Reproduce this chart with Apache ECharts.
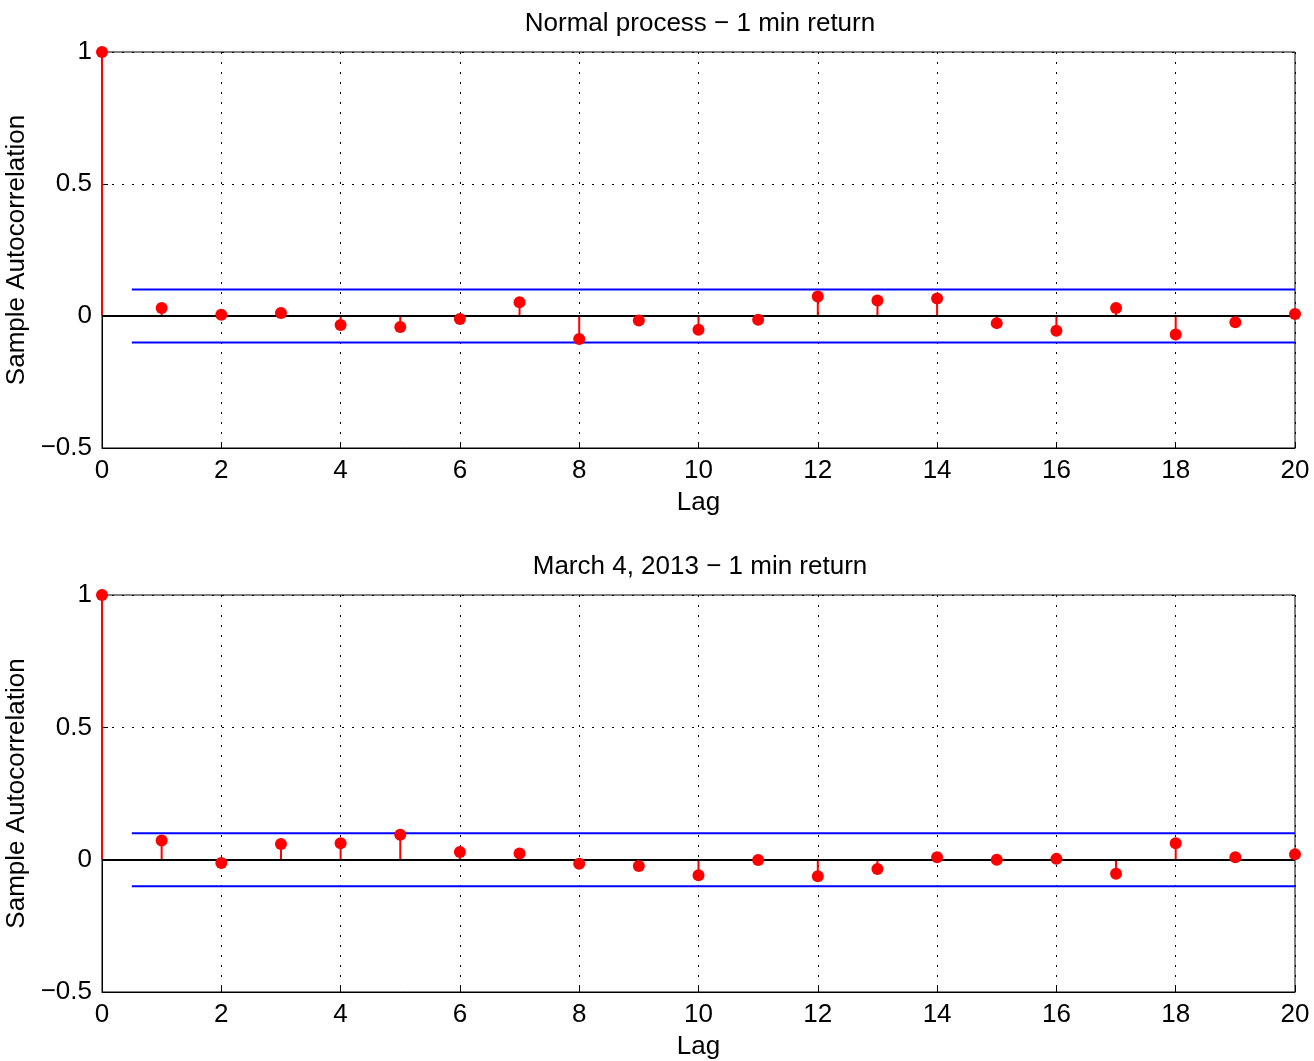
<!DOCTYPE html>
<html>
<head>
<meta charset="utf-8">
<title>Sample Autocorrelation</title>
<script src="https://cdn.jsdelivr.net/npm/echarts@6/dist/echarts.min.js"></script>
<style>
  html, body { margin: 0; padding: 0; background: #fff; }
  #main { width: 1314px; height: 1061px; }
</style>
</head>
<body>
<div id="main"></div>
<script type="text/javascript">
// lags 0..20
var lags = [0, 1, 2, 3, 4, 5, 6, 7, 8, 9, 10, 11, 12, 13, 14, 15, 16, 17, 18, 19, 20];

// Normal process - 1 min return
var acfNormal = [1, 0.030, 0.005, 0.011, -0.034, -0.042, -0.011, 0.052, -0.087, -0.017, -0.052,
                 -0.014, 0.074, 0.059, 0.066, -0.027, -0.056, 0.030, -0.070, -0.024, 0.008];

// March 4, 2013 - 1 min return
var acfMarch = [1, 0.072, -0.013, 0.059, 0.062, 0.094, 0.029, 0.023, -0.015, -0.024, -0.059,
                -0.001, -0.063, -0.035, 0.009, 0.000, 0.003, -0.053, 0.062, 0.009, 0.020];

var titles = ['Normal process \u2212 1 min return', 'March 4, 2013 \u2212 1 min return'];
var confBound = 0.1;
var boundRange = [0.5, 20];

var FONT = "'Liberation Sans', Arial, Helvetica, sans-serif";
var FS = 26;

var myChart = echarts.init(document.getElementById('main'));

var grids = [
    {left: 102, right: 19, top: 52, height: 396},
    {left: 102, right: 19, top: 595, height: 397}
];

function minusFmt(v) {
    return String(v).replace('-', '\u2212');
}

// stem: vertical line from 0 to the value, drawn through the axis scales
function renderStem(params, api) {
    var x = api.value(0);
    var p0 = api.coord([x, 0]);
    var p1 = api.coord([x, api.value(1)]);
    return {
        type: 'line',
        shape: {x1: p0[0], y1: p0[1], x2: p1[0], y2: p1[1]},
        style: {stroke: '#ff0000', lineWidth: 2}
    };
}

var xAxes = [], yAxes = [], series = [], titleList = [];
var allData = [acfNormal, acfMarch];
var titleTops = [6, 549];

allData.forEach(function (acf, i) {
    titleList.push({
        text: titles[i],
        left: 695,
        textAlign: 'center',
        top: titleTops[i],
        textStyle: {fontFamily: FONT, fontSize: FS, fontWeight: 'normal', color: '#000'}
    });
    xAxes.push({
        gridIndex: i,
        type: 'value',
        min: 0, max: 20, interval: 2,
        name: 'Lag',
        nameLocation: 'middle',
        nameGap: 42,
        nameTextStyle: {fontFamily: FONT, fontSize: FS, color: '#000'},
        axisLine: {onZero: false, lineStyle: {color: '#000', width: 1}},
        axisTick: {inside: true, length: 6, lineStyle: {color: '#000'}},
        axisLabel: {fontFamily: FONT, fontSize: FS, color: '#000', margin: 10},
        splitLine: {show: true, lineStyle: {color: '#000', type: [2, 8], width: 1}}
    });
    yAxes.push({
        gridIndex: i,
        type: 'value',
        min: -0.5, max: 1, interval: 0.5,
        name: 'Sample Autocorrelation',
        nameLocation: 'middle',
        nameGap: 64,
        nameRotate: 90,
        nameTextStyle: {fontFamily: FONT, fontSize: FS, color: '#000'},
        axisLine: {onZero: false, lineStyle: {color: '#000', width: 1}},
        axisTick: {inside: true, length: 6, lineStyle: {color: '#000'}},
        axisLabel: {fontFamily: FONT, fontSize: FS, color: '#000', margin: 10, formatter: minusFmt},
        splitLine: {show: true, lineStyle: {color: '#000', type: [2, 8], width: 1}}
    });

    var pts = lags.map(function (l, k) { return [l, acf[k]]; });

    // stems
    series.push({
        type: 'custom',
        xAxisIndex: i, yAxisIndex: i,
        data: pts,
        renderItem: renderStem,
        silent: true,
        z: 3,
        markLine: {
            silent: true,
            symbol: 'none',
            label: {show: false},
            lineStyle: {color: '#000', type: 'solid', width: 2},
            data: [{yAxis: 0}]
        }
    });
    // confidence bounds
    [confBound, -confBound].forEach(function (b) {
        series.push({
            type: 'line',
            xAxisIndex: i, yAxisIndex: i,
            data: boundRange.map(function (x) { return [x, b]; }),
            symbol: 'none',
            lineStyle: {color: '#0000ff', width: 2},
            silent: true,
            z: 2
        });
    });
    // markers
    series.push({
        type: 'scatter',
        xAxisIndex: i, yAxisIndex: i,
        data: pts,
        symbol: 'circle',
        symbolSize: 12,
        itemStyle: {color: '#ff0000', opacity: 1},
        silent: true,
        z: 5
    });
});

var option = {
    animation: false,
    backgroundColor: '#fff',
    title: titleList,
    grid: grids.map(function (g) {
        return Object.assign({
            show: true, borderColor: '#000', borderWidth: 1, backgroundColor: 'transparent',
            containLabel: false, outerBoundsMode: 'none'
        }, g);
    }),
    xAxis: xAxes,
    yAxis: yAxes,
    series: series
};

myChart.setOption(option);
</script>
</body>
</html>
